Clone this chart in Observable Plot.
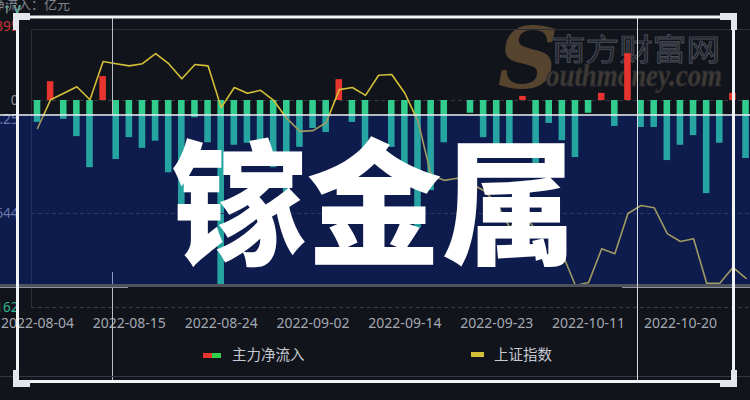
<!DOCTYPE html>
<html><head><meta charset="utf-8">
<script src="https://cdn.jsdelivr.net/npm/d3@7"></script>
<script src="https://cdn.jsdelivr.net/npm/@observablehq/plot@0.6"></script>
<style>
html,body{margin:0;padding:0;background:#11141b;}
#wrap{position:relative;width:750px;height:400px;overflow:hidden;background:#11141b;}
#wrap > svg, #wrap > div{position:absolute;left:0;top:0;}
.lg{position:absolute;font:14.5px "Noto Sans CJK SC",sans-serif;color:#c5c9d1;line-height:20px;white-space:nowrap;}
</style></head><body>
<div id="wrap"></div>
<script>
// ---- data ----
const dates = [
 "2022-08-04","2022-08-05","2022-08-08","2022-08-09","2022-08-10","2022-08-11","2022-08-12","2022-08-15","2022-08-16","2022-08-17",
 "2022-08-18","2022-08-19","2022-08-22","2022-08-23","2022-08-24","2022-08-25","2022-08-26","2022-08-29","2022-08-30","2022-08-31",
 "2022-09-01","2022-09-02","2022-09-05","2022-09-06","2022-09-07","2022-09-08","2022-09-09","2022-09-13","2022-09-14","2022-09-15",
 "2022-09-16","2022-09-19","2022-09-20","2022-09-21","2022-09-22","2022-09-23","2022-09-26","2022-09-27","2022-09-28","2022-09-29",
 "2022-09-30","2022-10-10","2022-10-11","2022-10-12","2022-10-13","2022-10-14","2022-10-17","2022-10-18","2022-10-19","2022-10-20",
 "2022-10-21","2022-10-24","2022-10-25","2022-10-26","2022-10-27"];
// 主力净流入 (亿元)
const netInflow = [
 -0.43, 0.37,-0.37,-0.71,-1.32, 0.47,-1.16,-0.73,-0.94,-0.80,
 -1.42,-2.10,-0.34,-0.83,-3.63,-0.88,-0.84,-0.88,-1.32,-2.22,
 -0.92,-0.55,-0.63, 0.41,-0.43,-1.32, 0.00,-0.92,-1.47,-2.51,
 -1.77,-0.83, 0.00,-0.25,-0.73,-1.14,-0.94, 0.08,-1.51,-0.45,
 -0.79,-1.12,-0.25, 0.14,-0.51, 0.92,-0.53,-0.53,-1.18,-0.88,
 -0.69,-1.83,-0.84, 0.14,-1.14];
// 上证指数
const shIndex = [
 3189,3229,3238,3247,3229,3282,3279,3276,3279,3293,
 3279,3258,3278,3276,3218,3246,3238,3242,3228,3203,
 3185,3186,3197,3243,3246,3235,3263,3264,3238,3199,
 3124,3117,3120,3113,3103,3085,3051,3072,3047,3038,
 3015,2971,2975,3022,3015,3071,3082,3079,3043,3032,
 3036,2974,2974,2996,2981];
const tickIdx = [0,7,14,21,28,35,42,49];
const flowDomain = [-4.067, 1.395];
const flowTickTop = [1.395], flowTickTopLabel = ["1.395"];
const flowTickZero = [0], flowTickZeroLabel = ["0"];
const indexDomain = [2940.4, 3326.5];
const indexTicksMid = [3201.5, 3071], indexTicksMidLabels = ["3201.25", "3071.644"];
const indexTickLow = [2940.4], indexTickLowLabel = ["2940.162"];
const seriesNames = ["主力净流入", "上证指数"];

// ---- layout ----
const wrap = document.getElementById("wrap");
const W = 750, H = 400;
const common = {
  width: W, height: H, marginLeft: 31, marginRight: 0, marginTop: 29, marginBottom: 93,
  style: {background: "transparent", fontFamily: "'Noto Sans', sans-serif"}
};
const xDom = [-0.457, 54.34];

// watermark (under the data)
wrap.insertAdjacentHTML("beforeend", `
<svg width="750" height="400">
 <text x="528" y="88" text-anchor="middle" font-family="DejaVu Serif" font-style="italic" font-weight="bold" font-size="84" fill="#57442e">S</text>
 <text x="552" y="60" font-family="Noto Sans CJK SC" font-size="30" textLength="168" lengthAdjust="spacingAndGlyphs" fill="#1a1d24" stroke="#4a4e58" stroke-width="0.9">南方财富网</text>
 <text x="546" y="86" font-family="Liberation Serif" font-style="italic" font-weight="bold" font-size="31" textLength="176" lengthAdjust="spacingAndGlyphs" fill="#3f3a33" stroke="#2a2b30" stroke-width="0.8">outhmoney.com</text>
</svg>`);

const flowData = netInflow.map((v, i) => ({i, v}));
const p1 = Plot.plot({
  ...common,
  x: {type: "linear", domain: xDom},
  y: {domain: flowDomain},
  marks: [
    Plot.ruleY(flowTickTop, {stroke: "#2a2e39"}),
    Plot.ruleX([xDom[0]], {stroke: "#2a2e39"}),
    Plot.ruleY([0], {stroke: "#343944", strokeDasharray: "4,3"}),
    Plot.rect(flowData, {x1: d => d.i - 0.25, x2: d => d.i + 0.25, y1: 0, y2: "v",
      fill: d => d.v >= 0 ? "#e8342e" : "#31cc8e"}),
    Plot.axisX(tickIdx, {anchor: "bottom", tickSize: 0, tickPadding: 11, tickFormat: i => dates[i],
      fontSize: 14, fill: "#a3a8b2"}),
    Plot.axisY(flowTickTop, {anchor: "left", tickSize: 0, tickPadding: 13, dy: -3, fontSize: 13.5,
      tickFormat: (d, i) => flowTickTopLabel[i], fill: "#c93636"}),
    Plot.axisY(flowTickZero, {anchor: "left", tickSize: 0, tickPadding: 13, fontSize: 13.5,
      tickFormat: (d, i) => flowTickZeroLabel[i], fill: "#8a8f99"})
  ]
});
wrap.appendChild(p1);

const lineData = shIndex.map((v, i) => ({i, v}));
const p2 = Plot.plot({
  ...common,
  x: {type: "linear", domain: xDom, axis: null},
  y: {domain: indexDomain},
  marks: [
    Plot.ruleY([3071, 2940.4], {stroke: "#373c47", strokeDasharray: "4,3"}),
    Plot.line(lineData, {x: "i", y: "v", stroke: "#d4bf38", strokeWidth: 1.6}),
    Plot.axisY(indexTicksMid, {anchor: "left", tickSize: 0, tickPadding: 13, fontSize: 13.5,
      tickFormat: (d, i) => indexTicksMidLabels[i], fill: "#8a8f99"}),
    Plot.axisY(indexTickLow, {anchor: "left", tickSize: 0, tickPadding: 13, fontSize: 13.5,
      tickFormat: (d, i) => indexTickLowLabel[i], fill: "#2fb596"})
  ]
});
wrap.appendChild(p2);

// decoration above the data
wrap.insertAdjacentHTML("beforeend", `
<svg width="750" height="400">
 <text x="70" y="9" text-anchor="end" font-family="Noto Sans CJK SC" font-size="13" fill="#7f848e">主力净流入：亿元</text>
 <line x1="112.5" x2="112.5" y1="17" y2="115" stroke="#b9bdc6" stroke-width="1"/>
 <line x1="112.5" x2="112.5" y1="272" y2="382" stroke="#b9bdc6" stroke-width="1"/>
 <rect x="0" y="115" width="750" height="170" fill="rgb(6,50,220)" fill-opacity="0.26"/>
 <line x1="0" x2="750" y1="115" y2="115" stroke="#eef0f4" stroke-width="1.5"/>
 <rect x="0" y="284" width="750" height="3" fill="#4e525c"/>
 <line x1="0" x2="128" y1="287.5" y2="287.5" stroke="#8f939c"/>
 <line x1="622" x2="750" y1="287.5" y2="287.5" stroke="#8f939c"/>
 <line x1="0" x2="750" y1="376.5" y2="376.5" stroke="#33373f"/>
 <line x1="637.5" x2="637.5" y1="17" y2="382" stroke="#d8dbe0" stroke-width="1"/>
 <rect x="17.5" y="17" width="716" height="364.5" fill="none" stroke="#f2f3f5" stroke-width="3"/>
 <g fill="#e3e6ea">
  <rect x="13" y="13" width="17" height="7"/><rect x="13" y="13" width="6" height="17"/>
  <rect x="720" y="13" width="17" height="7"/><rect x="731" y="13" width="6" height="17"/>
  <rect x="13" y="380" width="17" height="7"/><rect x="13" y="370" width="6" height="17"/>
  <rect x="720" y="380" width="17" height="7"/><rect x="731" y="370" width="6" height="17"/>
 </g>
 <text x="374" y="254" text-anchor="middle" font-family="Noto Sans CJK SC" font-weight="900" font-size="135" fill="#ffffff">镓金属</text>
</svg>`);

// legend
const lg = document.createElement("div");
lg.style.cssText = "position:absolute;left:0;top:0;width:750px;height:400px;";
lg.innerHTML = `
 <div style="position:absolute;left:203px;top:353px;width:9px;height:5px;background:#e8342e"></div>
 <div style="position:absolute;left:212px;top:353px;width:9px;height:5px;background:#2fd34a"></div>
 <div class="lg" style="left:232px;top:344px">${seriesNames[0]}</div>
 <div style="position:absolute;left:471px;top:352px;width:13px;height:5px;background:#d4bf38"></div>
 <div class="lg" style="left:494px;top:344px">${seriesNames[1]}</div>`;
wrap.appendChild(lg);
</script></body></html>
